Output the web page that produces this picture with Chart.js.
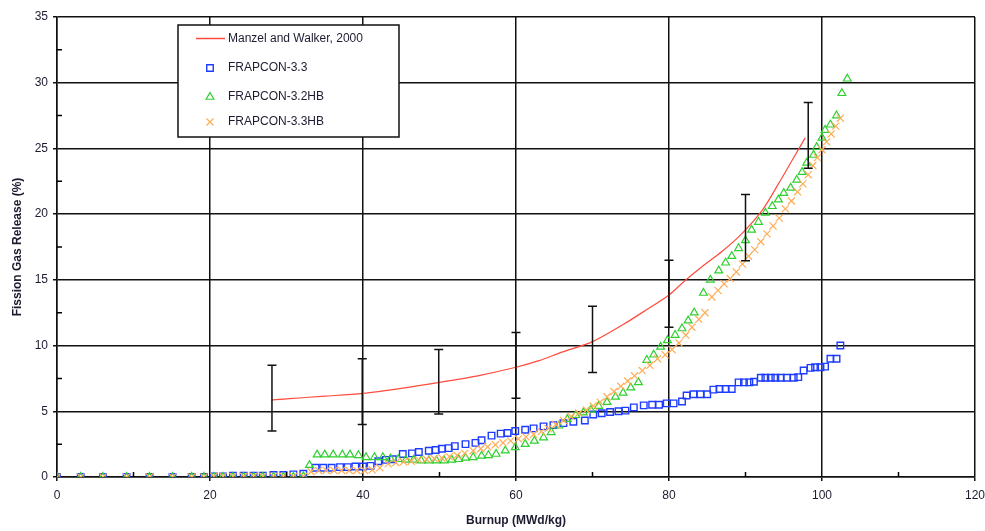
<!DOCTYPE html>
<html>
<head>
<meta charset="utf-8">
<title>Fission Gas Release vs Burnup</title>
<script src="https://cdn.jsdelivr.net/npm/chart.js@4.4.1/dist/chart.umd.min.js"></script>
<style>
  html, body { margin: 0; padding: 0; background: #fff; }
  #wrap { width: 985px; height: 531px; position: relative; }
</style>
</head>
<body>
<div id="wrap"><canvas id="myChart" width="985" height="531"></canvas></div>
<script>
// ---- data ----
const manzelX = [28, 30, 35, 40, 45, 50, 55, 60, 63, 66, 70, 74, 77, 80, 82, 84.3, 87, 89.5, 92.2, 94.3, 96.1, 97.8];
const manzelY = [5.85, 5.95, 6.15, 6.37, 6.75, 7.2, 7.7, 8.35, 8.85, 9.5, 10.3, 11.6, 12.7, 13.85, 14.9, 16.0, 17.2, 18.5, 20.3, 22.3, 24.1, 25.8];

const f33X = [0, 3.1, 6.0, 9.1, 12.1, 15.1, 17.6, 19.2, 20.5, 21.7, 23.0, 24.4, 25.7, 26.9, 28.3, 29.6, 30.9, 32.2,
  33.8, 34.8, 35.9, 37.0, 38.0, 39.0, 40.0, 41.0, 42.0, 43.0, 43.9, 45.2, 46.4, 47.3, 48.6, 49.5, 50.3, 51.2, 52.0,
  53.4, 54.7, 55.5, 56.8, 58.0, 58.9, 59.9, 61.2, 62.3, 63.6, 64.9, 66.2, 67.5, 69.0, 70.1, 71.2, 72.3, 73.4, 74.3,
  75.4, 76.7, 77.8, 78.7, 79.7, 80.6, 81.7, 82.3, 83.2, 84.1, 85.0, 85.8, 86.6, 87.4, 88.2, 89.1, 89.8, 90.5, 91.1,
  92.0, 92.6, 93.3, 93.9, 94.6, 95.4, 96.3, 96.9, 97.6, 98.5, 99.1, 99.8, 100.4, 101.1, 101.9, 102.4];
const f33Y = [0, 0, 0, 0, 0, 0, 0, 0, 0.05, 0.05, 0.1, 0.1, 0.1, 0.1, 0.15, 0.15, 0.2, 0.25,
  0.7, 0.7, 0.7, 0.75, 0.75, 0.8, 0.8, 0.85, 1.2, 1.3, 1.35, 1.75, 1.8, 1.9, 2.0, 2.05, 2.15, 2.2, 2.35,
  2.5, 2.6, 2.8, 3.15, 3.3, 3.35, 3.5, 3.6, 3.7, 3.85, 3.95, 4.1, 4.2, 4.3, 4.75, 4.85, 4.95, 5.0, 5.05,
  5.3, 5.45, 5.5, 5.5, 5.6, 5.6, 5.75, 6.2, 6.3, 6.3, 6.3, 6.65, 6.7, 6.7, 6.7, 7.2, 7.2, 7.2, 7.25,
  7.55, 7.55, 7.55, 7.55, 7.55, 7.55, 7.55, 7.6, 8.1, 8.3, 8.35, 8.35, 8.4, 9.0, 9.0, 10.0];

const f32hbX = [0, 3.1, 6.0, 9.1, 12.1, 15.1, 17.6, 19.2, 20.5, 21.7, 23.0, 24.4, 25.7, 26.9, 28.3, 29.6, 30.9, 32.2,
  33.0, 34.0, 35.0, 36.1, 37.3, 38.3, 39.4, 40.4, 41.5, 42.6, 43.6, 44.6, 45.6, 46.6, 47.6, 48.6, 49.6, 50.6, 51.6,
  52.5, 53.4, 54.4, 55.5, 56.4, 57.4, 58.6, 59.9, 61.2, 62.4, 63.6, 64.6, 65.6, 66.7, 67.8, 68.8, 69.8, 70.8, 71.9,
  73.0, 74.0, 75.0, 76.0, 77.1, 78.0, 78.9, 79.8, 80.8, 81.7, 82.5, 83.3, 84.5, 85.4, 86.5, 87.4, 88.2, 89.1, 90.0,
  90.8, 91.7, 92.6, 93.5, 94.3, 95.0, 95.9, 96.7, 97.4, 98.0, 98.9, 99.3, 100.0, 100.4, 101.1, 101.9, 102.6, 103.3];
const f32hbY = [0, 0, 0, 0, 0, 0, 0, 0, 0, 0, 0, 0, 0, 0, 0, 0, 0, 0.05,
  0.9, 1.7, 1.7, 1.7, 1.7, 1.7, 1.65, 1.5, 1.5, 1.5, 1.4, 1.35, 1.3, 1.3, 1.25, 1.25, 1.25, 1.25, 1.3,
  1.35, 1.45, 1.5, 1.6, 1.65, 1.75, 2.0, 2.25, 2.5, 2.75, 3.0, 3.4, 3.9, 4.4, 4.7, 4.9, 5.1, 5.4, 5.7,
  6.1, 6.4, 6.8, 7.2, 8.9, 9.3, 9.9, 10.4, 10.8, 11.3, 11.9, 12.5, 14.0, 15.0, 15.7, 16.3, 16.8, 17.4, 18.0,
  18.8, 19.4, 20.1, 20.6, 21.1, 21.6, 22.0, 22.6, 23.2, 23.9, 24.5, 25.1, 25.8, 26.4, 26.8, 27.5, 29.2, 30.3];

const f33hbX = [0, 3.1, 6.0, 9.1, 12.1, 15.1, 17.6, 19.2, 20.5, 21.7, 23.0, 24.4, 25.7, 26.9, 28.3, 29.6, 30.9, 32.2,
  33.2, 34.2, 35.2, 36.2, 37.2, 38.2, 39.2, 40.2, 41.2, 42.2, 43.3, 44.3, 45.3, 46.3, 47.3, 48.3, 49.3, 50.3, 51.3,
  52.3, 53.3, 54.4, 55.4, 56.3, 57.3, 58.3, 59.3, 60.3, 61.3, 62.3, 63.3, 64.2, 65.2, 66.2, 67.2, 68.2, 69.2, 70.1,
  71.0, 71.9, 72.8, 73.7, 74.6, 75.5, 76.5, 77.5, 78.5, 79.5, 80.4, 81.3, 82.2, 83.0, 83.9, 84.7, 85.6, 86.4, 87.2,
  88.0, 88.8, 89.6, 90.4, 91.2, 92.0, 92.8, 93.6, 94.4, 95.2, 96.0, 96.8, 97.5, 98.2, 98.8, 99.4, 100.0, 100.6,
  101.2, 101.8, 102.4];
const f33hbY = [0, 0, 0, 0, 0, 0, 0, 0, 0.05, 0.05, 0.05, 0.05, 0.05, 0.05, 0.05, 0.05, 0.05, 0.05,
  0.4, 0.5, 0.5, 0.5, 0.5, 0.5, 0.5, 0.5, 0.55, 0.7, 1.0, 1.1, 1.15, 1.2, 1.3, 1.35, 1.4, 1.45, 1.55,
  1.65, 1.8, 2.0, 2.15, 2.3, 2.45, 2.6, 2.75, 2.9, 3.05, 3.25, 3.45, 3.7, 4.0, 4.3, 4.6, 4.85, 5.1, 5.4,
  5.7, 6.1, 6.5, 6.9, 7.3, 7.7, 8.1, 8.5, 9.0, 9.3, 9.7, 10.2, 10.8, 11.4, 12.0, 12.5, 13.7, 14.2, 14.7,
  15.1, 15.6, 16.2, 16.8, 17.3, 17.9, 18.5, 19.1, 19.7, 20.4, 21.0, 21.7, 22.3, 23.0, 23.7, 24.3, 24.9, 25.5,
  26.1, 26.7, 27.3];

// measured data scatter bands (error bars)
const errX = [28.1, 39.9, 49.9, 60, 70, 80, 90, 98.2];
const errLow = [3.5, 4.0, 4.8, 6.0, 7.95, 11.4, 16.45, 23.5];
const errHigh = [8.5, 9.0, 9.7, 11.0, 13.0, 16.5, 21.5, 28.5];

const seriesNames = ["Manzel and Walker, 2000", "FRAPCON-3.3", "FRAPCON-3.2HB", "FRAPCON-3.3HB"];

// ---- styling ----
const FONT = "'Liberation Sans', Arial, sans-serif";
const TEXT = "#1c1c30";
const RED = "#ff4b3e";
const BLUE = "#1e3cff";
const GREEN = "#2fcf2f";
const ORANGE = "#ffac55";

function toPoints(xs, ys) {
  return xs.map((x, i) => ({ x: x, y: ys[i] }));
}

const datasets = [
  {
    label: seriesNames[0], data: toPoints(manzelX, manzelY), showLine: true,
    borderColor: RED, borderWidth: 1.2, pointRadius: 0, fill: false, tension: 0.3, order: 4
  },
  {
    label: seriesNames[1], data: toPoints(f33X, f33Y), showLine: false,
    pointStyle: 'rect', pointRadius: 4.6, pointBorderWidth: 1.4,
    pointBorderColor: BLUE, pointBackgroundColor: 'rgba(0,0,0,0)', order: 3
  },
  {
    label: seriesNames[2], data: toPoints(f32hbX, f32hbY), showLine: false,
    pointStyle: 'triangle', pointRadius: 4.5, pointBorderWidth: 1.2,
    pointBorderColor: GREEN, pointBackgroundColor: 'rgba(0,0,0,0)', order: 2
  },
  {
    label: seriesNames[3], data: toPoints(f33hbX, f33hbY), showLine: false,
    pointStyle: 'crossRot', pointRadius: 5, pointBorderWidth: 1.2,
    pointBorderColor: ORANGE, pointBackgroundColor: 'rgba(0,0,0,0)', order: 1
  }
];

// error bars + minor ticks + inset legend
const extrasPlugin = {
  id: 'extras',
  afterDatasetsDraw(chart) {
    const ctx = chart.ctx;
    const xs = chart.scales.x, ys = chart.scales.y;
    const area = chart.chartArea;
    ctx.save();

    // minor ticks, inside the plot
    ctx.strokeStyle = '#000';
    ctx.lineWidth = 1.5;
    ctx.beginPath();
    for (let v = 10; v < 120; v += 20) {
      const px = xs.getPixelForValue(v);
      ctx.moveTo(px, area.bottom);
      ctx.lineTo(px, area.bottom - 5);
    }
    for (let v = 2.5; v < 35; v += 5) {
      const py = ys.getPixelForValue(v);
      ctx.moveTo(area.left, py);
      ctx.lineTo(area.left + 5, py);
    }
    ctx.stroke();

    // error bars
    ctx.strokeStyle = '#111';
    ctx.lineWidth = 1.5;
    ctx.beginPath();
    errX.forEach((x, i) => {
      const px = xs.getPixelForValue(x);
      const lo = ys.getPixelForValue(errLow[i]);
      const hi = ys.getPixelForValue(errHigh[i]);
      ctx.moveTo(px, lo); ctx.lineTo(px, hi);
      ctx.moveTo(px - 4.5, lo); ctx.lineTo(px + 4.5, lo);
      ctx.moveTo(px - 4.5, hi); ctx.lineTo(px + 4.5, hi);
    });
    ctx.stroke();
    ctx.restore();
  },
  afterDraw(chart) {
    const ctx = chart.ctx;
    const area = chart.chartArea;
    const bx = area.left + 121, by = area.top + 8, bw = 221, bh = 112;
    ctx.save();
    ctx.fillStyle = '#fff';
    ctx.fillRect(bx, by, bw, bh);
    ctx.strokeStyle = '#111';
    ctx.lineWidth = 1.5;
    ctx.strokeRect(bx, by, bw, bh);

    const rows = [13.5, 43, 72, 97];
    const mx = bx + 32, tx = bx + 50;
    ctx.textBaseline = 'middle';
    ctx.textAlign = 'left';
    chart.data.datasets.forEach((ds, i) => {
      const y = by + rows[i];
      if (i === 0) {
        ctx.strokeStyle = ds.borderColor;
        ctx.lineWidth = 1.5;
        ctx.beginPath();
        ctx.moveTo(bx + 18, y); ctx.lineTo(bx + 47, y);
        ctx.stroke();
      } else {
        ctx.fillStyle = 'rgba(0,0,0,0)';
        ctx.strokeStyle = ds.pointBorderColor;
        ctx.lineWidth = ds.pointBorderWidth;
        Chart.helpers.drawPoint(ctx, {
          pointStyle: ds.pointStyle, radius: ds.pointRadius, rotation: 0,
          borderWidth: ds.pointBorderWidth
        }, mx, y);
      }
      ctx.font = "12px " + FONT;
      ctx.fillStyle = TEXT;
      ctx.fillText(ds.label, tx, y);
    });
    ctx.restore();
  }
};

document.addEventListener("DOMContentLoaded", function () {
  const ctx = document.getElementById('myChart').getContext('2d');
  new Chart(ctx, {
    type: 'scatter',
    data: { datasets: datasets },
    plugins: [extrasPlugin],
    options: {
      responsive: false,
      animation: false,
      layout: { padding: { top: 17, right: 10, left: 0, bottom: 0 } },
      plugins: { legend: { display: false }, tooltip: { enabled: false } },
      scales: {
        x: {
          type: 'linear', min: 0, max: 120,
          afterFit(scale) {
            scale.height = 54;
            scale.paddingLeft = 0; scale.paddingRight = 0;
          },
          ticks: { stepSize: 20, padding: 7, color: TEXT, font: { family: FONT, size: 12 } },
          grid: { color: '#111', lineWidth: 1.5, tickLength: 4, tickColor: '#111' },
          border: { display: true, color: '#111', width: 1.5 },
          title: {
            display: true, text: 'Burnup (MWd/kg)', color: TEXT,
            font: { family: FONT, size: 12, weight: 'bold' }, padding: { top: 2, bottom: 3 }
          }
        },
        y: {
          type: 'linear', min: 0, max: 35,
          afterFit(scale) {
            scale.width = 57;
            scale.paddingTop = 0; scale.paddingBottom = 0;
          },
          ticks: { stepSize: 5, padding: 5, color: TEXT, font: { family: FONT, size: 12 } },
          grid: { color: '#111', lineWidth: 1.5, tickLength: 4, tickColor: '#111' },
          border: { display: true, color: '#111', width: 1.5 },
          title: {
            display: true, text: 'Fission Gas Release (%)', color: TEXT,
            font: { family: FONT, size: 12, weight: 'bold' }, padding: { top: 10, bottom: 0 }
          }
        }
      }
    }
  });
});
</script>
</body>
</html>
